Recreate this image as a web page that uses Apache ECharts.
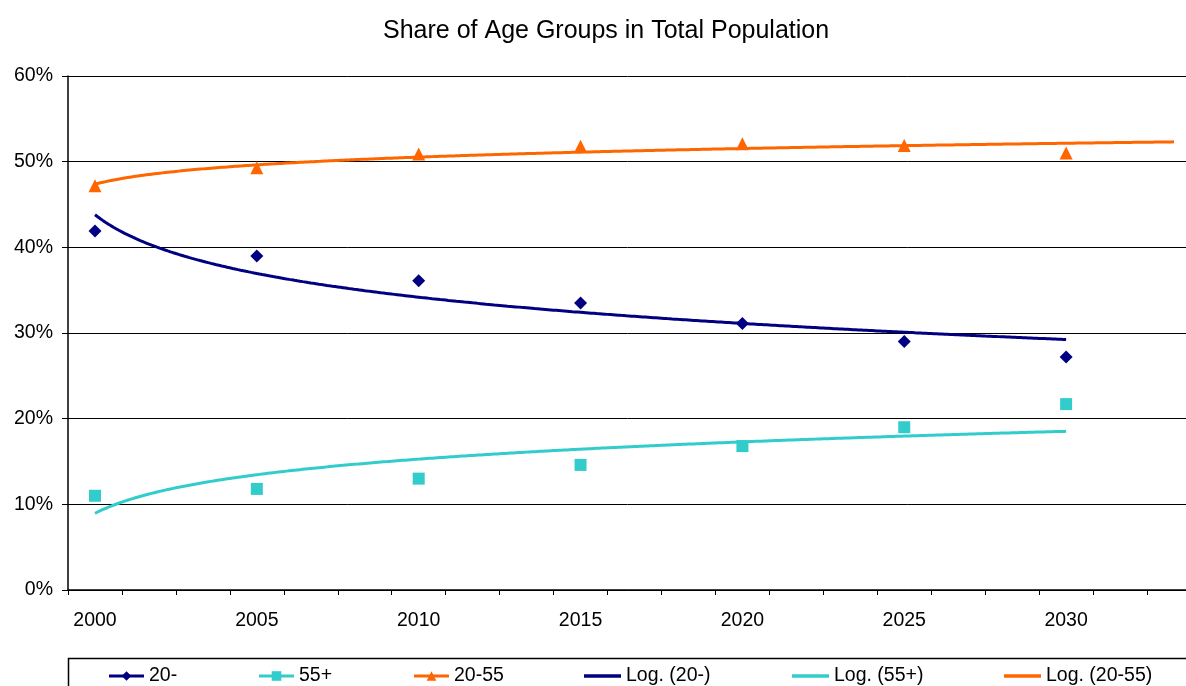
<!DOCTYPE html>
<html>
<head>
<meta charset="utf-8">
<script src="https://cdn.jsdelivr.net/npm/echarts@6/dist/echarts.min.js"></script>
<style>html,body{margin:0;padding:0;background:#fff}#c{width:1186px;height:686px}</style>
</head>
<body>
<div id="c"></div>
<script>
// ---- data ----
var years = [2000, 2005, 2010, 2015, 2020, 2025, 2030];
var under20 = [41.9, 39.0, 36.1, 33.5, 31.1, 29.0, 27.2];
var over55 = [11.0, 11.8, 13.0, 14.6, 16.8, 19.0, 21.7];
var mid2055 = [47.2, 49.3, 50.9, 51.8, 52.1, 51.9, 51.0];
var yTicks = [0, 10, 20, 30, 40, 50, 60];
var seriesNames = ['20-', '55+', '20-55'];
var trendNames = ['Log. (20-)', 'Log. (55+)', 'Log. (20-55)'];
var colors = ['#000080', '#33CCCC', '#FF6600'];

// category axis: 3 categories per 5 years, 21 categories in total
var catPerStep = 3, nCats = 21;
var catLabels = [];
for (var i = 0; i < nCats; i++) {
  catLabels.push(i % catPerStep === 0 && years[i / catPerStep] !== undefined ? String(years[i / catPerStep]) : '');
}
function catIndex(k) { return k * catPerStep + 1; } // 1-based category index

// logarithmic least-squares trend, like a spreadsheet "Log." trendline
function logFit(vals) {
  var n = vals.length, lx = [], mx = 0, my = 0;
  for (var i = 0; i < n; i++) { lx.push(Math.log(catIndex(i))); mx += lx[i]; my += vals[i]; }
  mx /= n; my /= n;
  var sxy = 0, sxx = 0;
  for (var j = 0; j < n; j++) { sxy += (lx[j] - mx) * (vals[j] - my); sxx += (lx[j] - mx) * (lx[j] - mx); }
  var a = sxy / sxx, b = my - a * mx;
  return function (x) { return a * Math.log(x) + b; };
}
function trendData(vals, xEnd) {
  var f = logFit(vals), out = [];
  for (var x = 1; x <= xEnd + 1e-9; x += 0.05) out.push([x, f(x)]);
  return out;
}
function pts(vals) { return vals.map(function (v, k) { return [catIndex(k), v]; }); }

var font = 'Liberation Sans, Arial, sans-serif';
var symbols = ['diamond', 'rect', 'triangle'];
var symbolSizes = [13, 12, 13];
var dataSets = [under20, over55, mid2055];
var trendEnds = [catIndex(6), catIndex(6), nCats];

var series = [];
for (var s = 0; s < 3; s++) {
  series.push({
    name: seriesNames[s], type: 'line', xAxisIndex: 1, data: pts(dataSets[s]),
    symbol: symbols[s], symbolSize: symbolSizes[s], showSymbol: true,
    itemStyle: { color: colors[s] }, lineStyle: { color: colors[s], width: 0 },
    z: 3, animation: false
  });
}
for (var t = 0; t < 3; t++) {
  series.push({
    name: trendNames[t], type: 'line', xAxisIndex: 1, data: trendData(dataSets[t], trendEnds[t]),
    symbol: 'none', showSymbol: false, smooth: false,
    itemStyle: { color: colors[t] }, lineStyle: { color: colors[t], width: 3 },
    z: 4, animation: false
  });
}

var legendLefts = [107.5, 257.5, 412.5, 584, 792, 1004];
var allNames = seriesNames.concat(trendNames);
var legends = allNames.map(function (nm, i) {
  var item = { name: nm };
  var lg = {
    data: [item], left: legendLefts[i], top: 666, padding: 0,
    itemWidth: 35, itemHeight: 12, selectedMode: false,
    textStyle: { fontFamily: font, fontSize: 19.5, color: '#000' }
  };
  if (i < 3) {
    item.lineStyle = { width: 3, color: colors[i] };
  } else {
    item.icon = 'rect';
    item.itemStyle = { color: colors[i - 3] };
    lg.itemWidth = 37;
    lg.itemHeight = 3.5;
  }
  return lg;
});

var chart = echarts.init(document.getElementById('c'), null, { renderer: 'canvas' });
chart.setOption({
  animation: false,
  backgroundColor: '#fff',
  title: {
    text: 'Share of Age Groups in Total Population', left: 378, top: 14,
    textStyle: { fontFamily: font, fontSize: 25, fontWeight: 'normal', color: '#000' }
  },
  grid: { left: 68, top: 76, height: 514, width: 1133, containLabel: false, outerBoundsMode: 'none' },
  legend: legends,
  xAxis: [
    {
      type: 'category', data: catLabels, boundaryGap: true, position: 'bottom',
      axisLine: { lineStyle: { color: '#000', width: 1.5 } },
      axisTick: { show: true, interval: 0, length: 5, lineStyle: { color: '#000' } },
      axisLabel: { interval: 0, margin: 21, fontFamily: font, fontSize: 19.5, color: '#000' },
      splitLine: { show: false }
    },
    { type: 'value', min: 0.5, max: nCats + 0.5, show: false, splitLine: { show: false } }
  ],
  yAxis: {
    type: 'value', min: yTicks[0], max: yTicks[yTicks.length - 1], interval: 10,
    axisLine: { show: true, lineStyle: { color: '#000', width: 1.5 } },
    axisTick: { show: true, length: 6, lineStyle: { color: '#000' } },
    axisLabel: { margin: 15, fontFamily: font, fontSize: 19.5, color: '#000', formatter: '{value}%' },
    splitLine: { show: true, lineStyle: { color: '#000', width: 1 } }
  },
  graphic: [{
    type: 'rect', left: 66, top: 656, silent: true,
    shape: { width: 1200, height: 100 },
    style: { fill: 'none', stroke: '#000', lineWidth: 1.5 }
  }],
  series: series
});
</script>
</body>
</html>
